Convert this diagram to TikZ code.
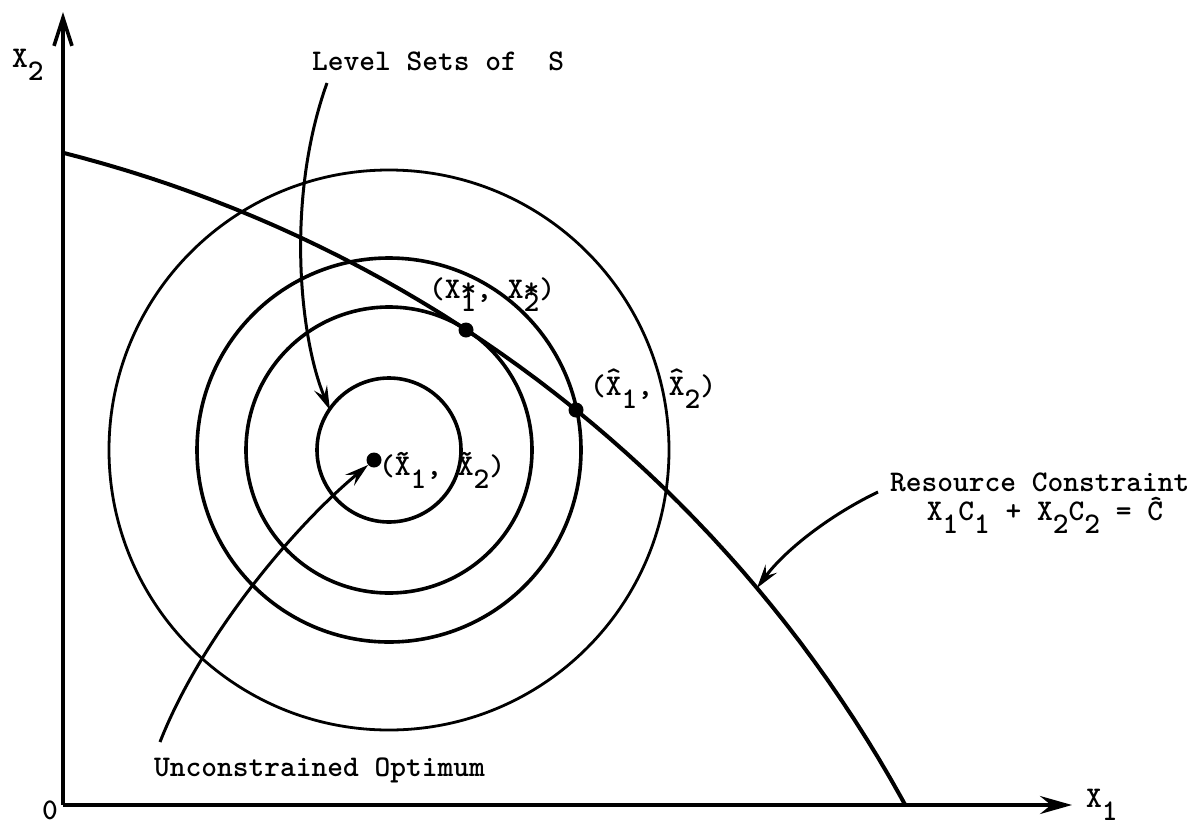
\documentclass[tikz,border=0pt]{standalone}
\usetikzlibrary{arrows.meta}
\newcommand\dn[1]{\raisebox{-0.44em}{#1}}
\newcommand\hX{\rlap{\raisebox{0.26em}{\char94}}X}
\newcommand\tX{\rlap{\raisebox{0.40em}{\char126}}X}
\begin{document}
\begin{tikzpicture}[x=1pt,y=-1pt,
  lbl/.style={font=\fontsize{30}{34}\selectfont\ttfamily\bfseries, inner sep=0pt, anchor=base west},
  lvl/.style={line width=3.6pt},
  dotpt/.style={circle, fill=black, inner sep=0pt, minimum size=15pt},
  ptr/.style={line width=3pt, -{Stealth[length=24pt,width=14pt,inset=9pt]}},
  ]
\useasboundingbox (0,0) rectangle (1200,825);
% axes
\coordinate (O) at (63,805);
\coordinate (ytop) at (63,12);
\coordinate (xend) at (1072,805);
\draw[line width=3.6pt, -{Straight Barb[length=28pt,width=18pt]}] (O) -- (ytop);
\draw[line width=3.6pt, -{Stealth[length=32pt,width=18pt,inset=11pt]}] (O) -- (xend);
\node[lbl] (x2lab) at (12,67) {X\dn{2}};
\node[lbl] (x1lab) at (1086,807) {X\dn{1}};
\node[lbl] (olab) at (42,819) {0};
% level sets
\coordinate (C) at (389,450);
\draw[lvl] (C) circle[radius=72];
\draw[lvl] (C) circle[radius=143];
\draw[lvl] (C) circle[radius=192];
\draw[line width=2.8pt] (C) circle[radius=280];
% resource constraint (circular arc)
\draw[line width=4pt] plot[domain=-75.8:-28.69, samples=120, smooth]
  ({-264+1333*cos(\x)}, {1445+1333*sin(\x)});
% points
\node[dotpt] (xt) at (374,460) {};
\node[dotpt] (xs) at (466,330) {};
\node[dotpt] (xh) at (576,410) {};
\node[lbl] (xslab) at (429,298) {(X\rlap{*}\dn{1}, X\rlap{*}\dn{2})};
\node[lbl] (xhlab) at (590,395) {(\hX\dn{1}, \hX\dn{2})};
\node[lbl] (xtlab) at (379,475) {(\tX\dn{1}, \tX\dn{2})};
% annotations
\node[lbl] (lslab) at (312,70) {Level Sets of~~S};
\node[lbl] (uolab) at (154,776) {Unconstrained Optimum};
\node[lbl] (rclab) at (890,491) {Resource Constraint};
\node[lbl, anchor=base] (rceq) at (1045,520) {X\dn{1}C\dn{1} + X\dn{2}C\dn{2} = \^{C}};
\coordinate (lsStart) at (327,83);
\coordinate (lsTip) at (330,410);
\draw[ptr] (lsStart) .. controls (285,200) and (300,340) .. (lsTip);
\coordinate (uoStart) at (160,742);
\draw[ptr] (uoStart) .. controls (200,640) and (290,530) .. (xt);
\coordinate (rcStart) at (878,492);
\coordinate (rcTip) at (757,588);
\draw[ptr] (rcStart) .. controls (830,515) and (785,550) .. (rcTip);
\end{tikzpicture}
\end{document}
